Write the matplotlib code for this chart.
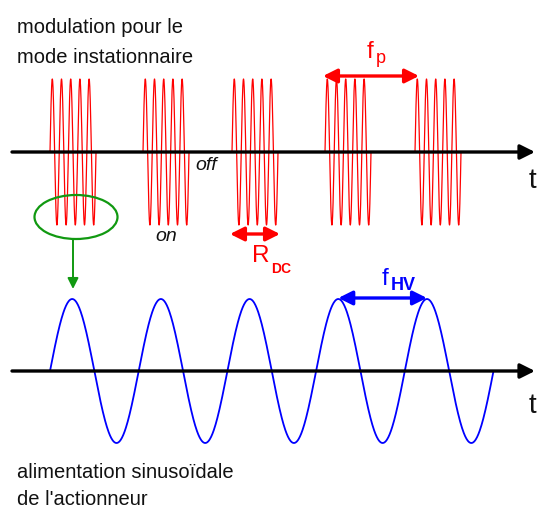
import numpy as np
import matplotlib
matplotlib.use('Agg')
import matplotlib.pyplot as plt
from matplotlib.patches import Ellipse

plt.rcParams['font.family'] = ['Liberation Sans', 'DejaVu Sans']

# everything is in picture pixels (x right, y down)
W, H = 537, 508

# top trace: bursts of the modulated signal
burst_starts = [50, 143, 232, 325, 415]
burst_cycles = 5
burst_period = 9.2
burst_amp = 73
top_axis_y = 152

# bottom trace: sinusoidal supply
sine_start = 50
sine_period = 88.7
sine_cycles = 5
sine_amp = 72
bottom_axis_y = 371

axis_x0, axis_x1 = 12, 535

red = '#ff0000'
blue = '#0000ff'
green = '#119911'
ink = '#111111'

fig = plt.figure(figsize=(W / 100, H / 100), dpi=100)
ax = fig.add_axes([0, 0, 1, 1])
ax.set_xlim(0, W)
ax.set_ylim(H, 0)
ax.axis('off')

# bursts
for x0 in burst_starts:
    xs = np.linspace(x0, x0 + burst_cycles * burst_period, 400)
    ys = top_axis_y - burst_amp * np.sin(2 * np.pi * (xs - x0) / burst_period)
    ax.plot(xs, ys, color=red, lw=0.9, zorder=2)

# sine
xs = np.linspace(sine_start, sine_start + sine_cycles * sine_period, 1000)
ys = bottom_axis_y - sine_amp * np.sin(2 * np.pi * (xs - sine_start) / sine_period)
ax.plot(xs, ys, color=blue, lw=1.3, zorder=2)

# time axes
for y, off in [(top_axis_y, 36), (bottom_axis_y, 42)]:
    ax.annotate('', xy=(axis_x1, y), xytext=(axis_x0, y),
                arrowprops=dict(arrowstyle='-|>', color='black', lw=2.4,
                                mutation_scale=22, shrinkA=0, shrinkB=0),
                zorder=3)
    ax.text(529, y + off, 't', fontsize=20, ha='left', va='baseline', color=ink)

# dimension arrows
def dim_arrow(x0, x1, y, col):
    ax.annotate('', xy=(x1, y), xytext=(x0, y),
                arrowprops=dict(arrowstyle='<|-|>', color=col, lw=2.4,
                                mutation_scale=21, shrinkA=0, shrinkB=0),
                zorder=4)

def label(x, y, main, sub, col, dx, dy, sub_size, weight='normal'):
    ax.text(x, y, main, fontsize=17.5, color=col, ha='left', va='baseline')
    ax.text(x + dx, y + dy, sub, fontsize=sub_size, color=col, ha='left',
            va='baseline', fontweight=weight)

dim_arrow(323, 419, 76, red)
label(367, 58, 'f', 'p', red, 9, 5, 13)

dim_arrow(230, 280, 234, red)
label(252, 262, 'R', 'DC', red, 19, 11, 10, 'bold')

peak1 = sine_start + 3.25 * sine_period
peak2 = sine_start + 4.25 * sine_period
dim_arrow(peak1, peak2, 298, blue)
label(382, 285, 'f', 'HV', blue, 9, 5, 13, 'bold')

# green marker
ax.add_patch(Ellipse((76, 217), 83, 44, fill=False, ec=green, lw=1.6, zorder=5))
ax.annotate('', xy=(73, 289), xytext=(73, 239),
            arrowprops=dict(arrowstyle='-|>', color=green, lw=1.4,
                            mutation_scale=16, shrinkA=0, shrinkB=0))

# labels
ax.text(17, 33, 'modulation pour le', fontsize=14.5, color=ink)
ax.text(17, 63, 'mode instationnaire', fontsize=14.5, color=ink)
ax.text(195, 170, 'off', fontsize=14, style='italic', color=ink)
ax.text(155, 241, 'on', fontsize=14, style='italic', color=ink)
ax.text(17, 478, 'alimentation sinusoïdale', fontsize=14.5, color=ink)
ax.text(17, 505, "de l'actionneur", fontsize=14.5, color=ink)

fig.savefig('out.png', dpi=100)
